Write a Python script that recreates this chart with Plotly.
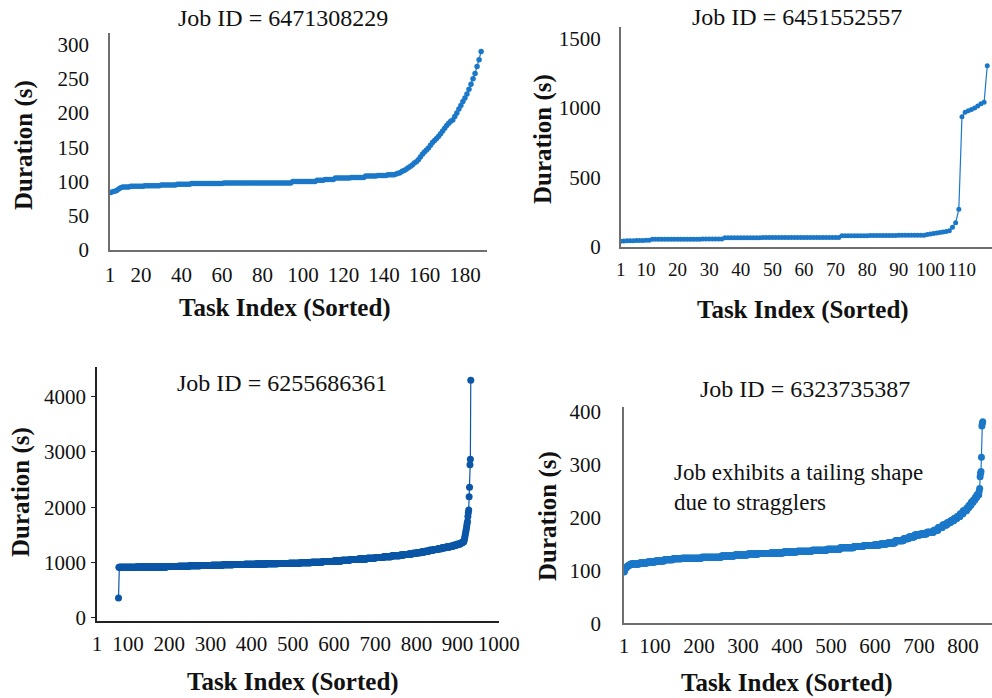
import plotly.graph_objects as go


def expand(runs):
    """Expand (duration, count) runs of tied durations into a flat sorted list."""
    return [v for v, n in runs for _ in range(n)]


W, H = 992, 698

# ---------------------------------------------------------------- data
job_ids = ["6471308229", "6451552557", "6255686361", "6323735387"]

# Job 6471308229: sorted task durations (s), first task index on the axis
job1_first_task = 5
job1_durations = (
    [84, 85, 86, 87, 89, 91, 92]
    + expand([(92, 3), (93, 7), (94, 8), (95, 8), (96, 7)])
    + expand([(97, 16), (98, 34), (100, 12), (102, 4), (103, 5),
              (105, 8), (106, 7), (108, 6), (109, 5), (110, 4)])
    + [111, 112, 113, 115, 116]
    + [118, 120, 122, 124, 127, 129, 132, 136, 140, 143, 146, 149, 153,
       157, 160, 163, 166, 170, 174, 178, 182, 185, 188, 190, 195, 200,
       206, 211, 217, 222, 228, 235, 242, 250, 258, 268, 278, 290]
)

# Job 6451552557
job2_first_task = 2
job2_durations = (
    [40, 41, 42, 43, 43, 44, 45, 45, 46, 46]
    + expand([(53, 8), (54, 8), (55, 7), (65, 12), (66, 13), (67, 12),
              (79, 9), (80, 9), (82, 9)])
    + [88, 92, 95, 98, 103, 106, 110, 115, 140, 173, 269]
    + [935, 968, 978, 988, 998, 1012, 1028, 1040, 1302]
)

# Job 6255686361
job3_first_task = 77
job3_durations = (
    [357]
    + expand([(912, 22), (915, 21), (917, 37), (920, 37),
              (925, 27), (932, 27), (940, 27), (945, 27), (951, 27), (958, 26),
              (962, 27), (966, 27), (970, 27), (975, 27), (981, 27), (988, 27),
              (995, 27), (1005, 27), (1016, 27),
              (1028, 20), (1040, 20), (1052, 20), (1064, 21),
              (1076, 20), (1090, 20), (1105, 20), (1122, 21),
              (1135, 10), (1145, 10), (1155, 10), (1165, 10),
              (1175, 10), (1190, 10), (1205, 10), (1222, 11),
              (1235, 10), (1250, 10), (1265, 10), (1282, 10),
              (1295, 8), (1310, 8), (1330, 8),
              (1345, 3), (1355, 3), (1365, 2), (1375, 2)])
    + [1400, 1440, 1480, 1520, 1560, 1600, 1650, 1700, 1740, 1830, 1900,
       1950, 2190, 2360, 2770, 2870, 4300]
)

# Job 6323735387
job4_first_task = 30
job4_durations = (
    [97, 100, 102, 104, 105, 106, 107, 108, 108, 109, 109, 110, 110, 110, 111]
    + expand([(112, 20), (114, 18), (116, 18), (118, 20), (120, 20), (122, 20),
              (123, 45), (125, 45), (127, 30), (129, 30), (131, 25), (132, 26),
              (133, 30), (135, 31), (136, 34), (138, 34), (140, 30), (143, 31),
              (145, 22), (147, 23), (148, 15), (150, 16), (152, 18), (156, 19),
              (160, 12), (163, 13), (167, 13), (169, 15), (172, 16),
              (176, 10), (181, 10), (186, 10), (190, 8), (194, 8), (198, 7),
              (202, 7), (207, 7), (213, 8), (218, 5), (223, 5), (229, 5),
              (233, 4), (238, 4), (243, 5)])
    + [250, 255, 277, 283, 287, 314, 373, 378, 381]
)

# Axis tick labels
job1_xticks = [20, 40, 60, 80, 100, 120, 140, 160, 180]
job2_xticks = [10, 20, 30, 40, 50, 60, 70, 80, 90, 100, 110]
job3_xticks = [100, 200, 300, 400, 500, 600, 700, 800, 900, 1000]
job4_xticks = [100, 200, 300, 400, 500, 600, 700, 800]
job1_yticks = [0, 50, 100, 150, 200, 250, 300]
job2_yticks = [0, 500, 1000, 1500]
job3_yticks = [0, 1000, 2000, 3000, 4000]
job4_yticks = [0, 100, 200, 300, 400]

note_text = "Job exhibits a tailing shape<br>due to stragglers"

# ---------------------------------------------------------------- styling
SERIF = "Liberation Serif, Times New Roman, serif"
TEXT = "#111111"
BLUE = "#1b78c9"
DARK_BLUE = "#0b56a6"


def xdom(left, right):
    return [left / W, min(right / W, 1.0)]


def ydom(top, bottom):
    return [1 - bottom / H, 1 - top / H]


panels = [
    dict(first=job1_first_task, y=job1_durations, xticks=job1_xticks, yticks=job1_yticks,
         xd=xdom(110, 487), yd=ydom(33, 250), xr=[4.7, 190.9], yr=[0, 317],
         color=BLUE, msize=5.5, lw=1.2, axis="#6e6e6e", yticklen=0,
         xstand=5, ystand=15, xfont=21),
    dict(first=job2_first_task, y=job2_durations, xticks=job2_xticks, yticks=job2_yticks,
         xd=xdom(620.7, 992), yd=ydom(27, 246.7), xr=[2.0, 119.5], yr=[0, 1581],
         color=BLUE, msize=5, lw=1.2, axis="#6e6e6e", yticklen=0,
         xstand=5, ystand=14, xfont=19),
    dict(first=job3_first_task, y=job3_durations, xticks=job3_xticks, yticks=job3_yticks,
         xd=xdom(97, 499), yd=ydom(366.7, 620.7), xr=[24.8, 1000.5], yr=[-54, 4543],
         color=DARK_BLUE, msize=7, lw=1.2, axis="#222222", yticklen=4,
         xstand=3, ystand=1, xfont=21),
    dict(first=job4_first_task, y=job4_durations, xticks=job4_xticks, yticks=job4_yticks,
         xd=xdom(624, 992), yd=ydom(406.7, 623.3), xr=[29.5, 866], yr=[0, 409.5],
         color=BLUE, msize=7, lw=1.2, axis="#6e6e6e", yticklen=0,
         xstand=3, ystand=17, xfont=21),
]

fig = go.Figure()
layout = dict(
    width=W, height=H,
    margin=dict(l=0, r=0, t=0, b=0, autoexpand=False),
    paper_bgcolor="white", plot_bgcolor="white",
    showlegend=False,
)

for i, p in enumerate(panels, start=1):
    xs = list(range(p["first"], p["first"] + len(p["y"])))
    fig.add_trace(go.Scatter(
        x=xs, y=p["y"], mode="lines+markers",
        line=dict(color=p["color"], width=p["lw"]),
        marker=dict(color=p["color"], size=p["msize"], symbol="circle"),
        xaxis=f"x{i}", yaxis=f"y{i}", hoverinfo="x+y",
    ))
    tickvals = [p["xr"][0]] + p["xticks"]
    ticktext = ["1"] + [str(t) for t in p["xticks"]]
    sfx = "" if i == 1 else str(i)
    layout[f"xaxis{sfx}"] = dict(
        domain=p["xd"], range=p["xr"], anchor=f"y{i}", automargin=False,
        showline=True, linecolor=p["axis"], linewidth=1.5,
        showgrid=False, zeroline=False, ticks="", tickangle=0,
        tickmode="array", tickvals=tickvals, ticktext=ticktext,
        tickfont=dict(family=SERIF, size=p["xfont"], color=TEXT),
        ticklabelstandoff=p["xstand"],
    )
    layout[f"yaxis{sfx}"] = dict(
        domain=p["yd"], range=p["yr"], anchor=f"x{i}", automargin=False,
        showline=True, linecolor=p["axis"], linewidth=1.5,
        showgrid=False, zeroline=False,
        ticks="outside" if p["yticklen"] else "", ticklen=p["yticklen"],
        tickcolor=p["axis"],
        tickmode="array", tickvals=p["yticks"],
        tickfont=dict(family=SERIF, size=21, color=TEXT),
        ticklabelstandoff=p["ystand"],
    )

fig.update_layout(**layout)


def px_annot(text, x, y, size, bold=False, angle=0, xanchor="center", align="center"):
    fig.add_annotation(
        text=f"<b>{text}</b>" if bold else text,
        x=x / W, y=1 - y / H, xref="paper", yref="paper",
        xanchor=xanchor, yanchor="middle", align=align,
        showarrow=False, textangle=angle,
        font=dict(family=SERIF, size=size, color=TEXT),
    )


# Panel titles
title_pos = [(283, 18), (797, 17), (282, 383), (805, 389)]
for jid, (tx, ty) in zip(job_ids, title_pos):
    px_annot(f"Job ID = {jid}", tx, ty, 24)

# Axis titles
for tx, ty in [(285, 308), (803, 310), (293, 682), (787, 683)]:
    px_annot("Task Index (Sorted)", tx, ty, 25, bold=True)
for tx, ty in [(24, 145), (543, 139), (21, 492), (548, 516)]:
    px_annot("Duration (s)", tx, ty, 25, bold=True, angle=-90)

# Note on the last panel
px_annot(note_text, 672, 487, 23, xanchor="left", align="left")

fig.write_html("out.html")
